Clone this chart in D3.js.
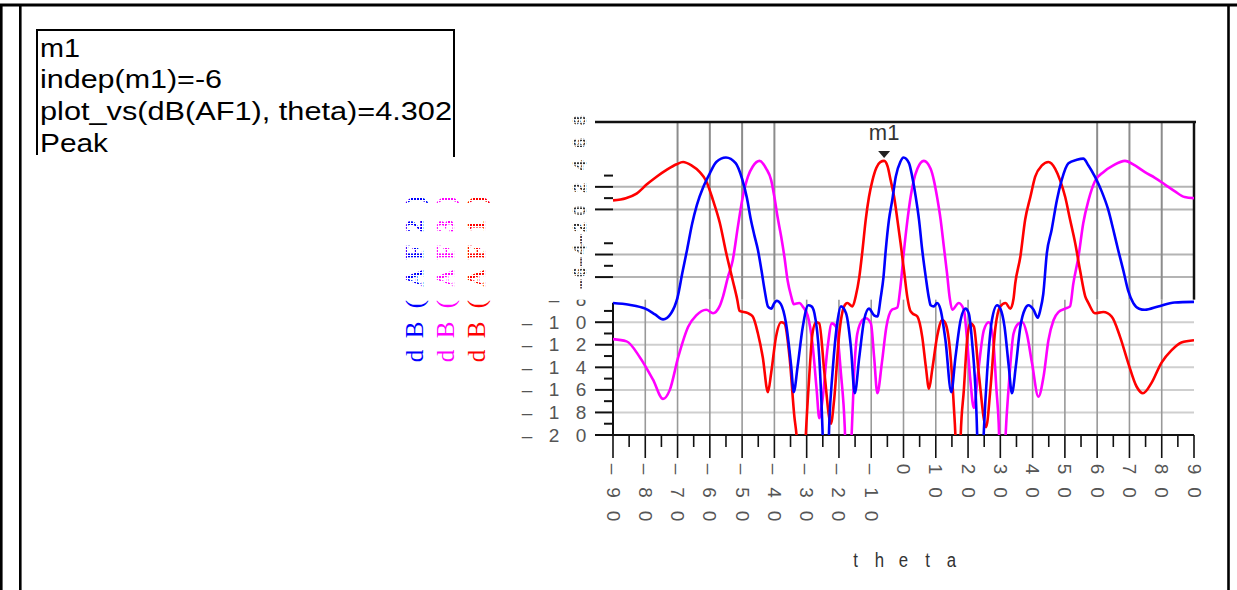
<!DOCTYPE html>
<html>
<head>
<meta charset="utf-8">
<script src="https://cdn.jsdelivr.net/npm/d3@7"></script>
<style>
  html, body { margin: 0; padding: 0; background: #fff; }
  svg { display: block; }
</style>
</head>
<body>
<svg id="chart" width="1237" height="590"></svg>
<script>
// ---- axis values ----
const thetaRange = [-90, 90];
const dbRange = [-20, 7.75];
const panelSplitDB = -8;
const thetaTicks = d3.range(-90, 91, 10);
const thetaMinorTicks = d3.range(-85, 90, 10);
const upperGridDB = [2, 0, -4, -6];
const upperMinorDB = [3, 1, -3, -5];
const upperLabelDB = [8, 6, 4, 2, 0, -2, -4, -6];
const upperVGridTheta = [-70, -60, -50, -40, 60, 70, 80];
const lowerGridDB = [-10, -12, -14, -16, -18];
const lowerTickDB = [-10, -12, -14, -16, -18, -20];
const lowerMinorDB = [-9, -11, -13, -15, -17, -19];
const lowerLabelDB = [-8, -10, -12, -14, -16, -18, -20];
const lowerVGridTheta = d3.range(-80, 81, 10);

// ---- traces: [theta (deg), dB] ----
const af1 = [ // dB(AF1)
  [-90, 0.8], [-86, 1.0], [-82.7, 1.4], [-79.6, 2.2], [-76.5, 2.9], [-73.4, 3.5], [-70.3, 4.0],
  [-68.3, 4.2], [-65.7, 3.9], [-63.1, 3.3], [-61.1, 2.5], [-59, 0.8], [-56.9, -1.2], [-54.9, -3.9],
  [-52.9, -6.3], [-51.5, -8.0], [-50.8, -9.0], [-48.2, -9.2], [-46.7, -9.5], [-45.1, -11.0],
  [-43.6, -13.1], [-42.0, -16.2], [-41.0, -14.5], [-39.5, -11.3], [-37.9, -10.0], [-36.9, -10.1],
  [-35.3, -13.1], [-33.8, -18.4], [-33.1, -20.2], [-31.7, -30], [-30.3, -20.2], [-29.2, -14.8],
  [-28.2, -11.0], [-27.1, -10.0], [-26.1, -10.1], [-24.5, -14.5], [-22.5, -19.0], [-21.5, -16.9],
  [-19.9, -11.0], [-18.4, -8.6], [-17.4, -8.3], [-15.8, -8.6], [-14.8, -7.7], [-13.7, -6.0],
  [-12.7, -3.6], [-11.7, -0.9], [-10.7, 1.1], [-9.6, 2.6], [-8.4, 3.7], [-7.2, 4.2], [-6, 4.302],
  [-4.9, 3.8], [-4.0, 2.6], [-2.9, 1.1], [-1.9, -0.9], [-0.9, -3.0], [0.15, -5.4], [1.2, -7.8],
  [2.0, -8.9], [2.7, -9.2], [4.3, -9.5], [5.8, -11.3], [6.9, -13.9], [7.9, -15.9], [8.9, -14.2],
  [10.4, -11.3], [12.0, -9.8], [13.0, -10.1], [14.6, -13.1], [15.6, -17.5], [16.1, -20.2],
  [16.9, -30], [17.7, -20.2], [18.7, -16.0], [19.7, -11.6], [20.7, -10.1], [21.8, -10.4],
  [23.3, -14.5], [25.6, -19.3], [26.9, -16.0], [28.5, -10.4], [30.0, -8.6], [31.6, -8.3],
  [33.1, -8.8], [34.1, -7.9], [34.6, -6.6], [36.2, -4.2], [37.7, -0.9], [39.3, 1.1], [40.8, 2.9],
  [42.9, 3.9], [44.9, 4.2], [47.0, 3.6], [48.5, 2.6], [50.1, 1.1], [51.6, -0.9], [53.2, -3.0],
  [54.7, -5.4], [56.3, -7.7], [57.3, -8.3], [59.3, -9.2], [61.9, -9.1], [64.5, -9.5], [67.1, -11.3],
  [69.6, -13.6], [72.2, -15.7], [74.2, -16.3], [76.8, -15.4], [79.9, -13.6], [83.0, -12.5],
  [86.1, -11.8], [90, -11.6]
];
const af2 = [ // dB(AF2)
  [-90, -8.3], [-85, -8.45], [-80, -8.8], [-77, -9.3], [-74.5, -9.75], [-72, -9.2], [-70, -7.8],
  [-68.5, -5.6], [-67, -3.5], [-65.5, -1.3], [-64, 0.4], [-62, 2.0], [-60, 3.2], [-58, 4.2],
  [-55, 4.6], [-52, 4.1], [-50, 2.7], [-48.5, 1.0], [-47.3, -0.9], [-46.2, -2.3], [-45.1, -3.6],
  [-44, -5.4], [-43, -7.2], [-42, -8.6], [-41, -8.8], [-40, -8.3], [-39.3, -8.1], [-38, -8.4],
  [-36.4, -10.1], [-34.8, -13.9], [-34, -16.2], [-32.8, -13.9], [-31.2, -10.4], [-29.5, -8.5],
  [-28.5, -8.6], [-27.6, -9.2], [-26.1, -13.1], [-25.1, -19.5], [-24, -30], [-23, -19.0],
  [-22, -14.5], [-20.4, -9.8], [-19.4, -8.6], [-17.8, -9.2], [-16.3, -12.2], [-15.1, -16.3],
  [-13.7, -13.1], [-12.2, -9.8], [-10.7, -8.8], [-9.1, -9.4], [-8.1, -9.5], [-7.0, -7.7],
  [-6.2, -6.0], [-5.5, -3.6], [-4.5, -0.9], [-3.5, 0.8], [-2.4, 2.9], [-1, 4.2], [0, 4.6],
  [1.7, 4.1], [2.7, 2.9], [3.8, 1.1], [4.8, -0.9], [5.8, -3.6], [6.9, -6.0], [7.9, -7.9],
  [8.4, -8.5], [9.4, -8.6], [10.4, -8.3], [11.5, -8.9], [13.0, -11.6], [14.8, -16.2], [16.1, -13.1],
  [17.7, -9.8], [19.2, -8.8], [20.2, -9.2], [21.2, -11.6], [22.8, -19.8], [23.6, -30], [24.9, -19.6],
  [25.9, -14.5], [27.4, -9.8], [29.0, -8.5], [30.0, -8.8], [31.3, -10.4], [32.6, -13.9],
  [33.6, -16.3], [34.8, -13.9], [36.2, -10.4], [37.7, -8.8], [38.7, -8.5], [40.3, -8.9],
  [41.6, -9.6], [42.4, -8.9], [43.3, -7.5], [44.4, -3.9], [45.9, -1.8], [47.5, 0.8], [49.0, 2.6],
  [51.1, 4.1], [53.7, 4.4], [55.7, 4.5], [57.3, 3.9], [59.3, 2.9], [61.4, 1.6], [63.4, 0.0],
  [65.0, -1.8], [66.5, -3.6], [68.1, -5.4], [69.6, -7.2], [71.2, -8.3], [73, -8.8], [74.8, -8.9],
  [78.9, -8.6], [84, -8.25], [90, -8.2]
];
const af3 = [ // dB(AF3)
  [-90, -11.5], [-85.8, -11.7], [-81.7, -13.1], [-77.6, -15.1], [-74.5, -16.8], [-72.4, -16.0],
  [-69.8, -13.1], [-66.7, -10.4], [-64.2, -9.4], [-61.1, -8.9], [-59.0, -9.2], [-57.0, -8.6],
  [-55.9, -7.7], [-54.4, -6.0], [-52.9, -4.5], [-51.3, -1.5], [-49.8, 1.1], [-48.2, 2.9],
  [-46.7, 3.8], [-44.6, 4.3], [-42.5, 3.6], [-41.0, 2.6], [-40.0, 1.1], [-39.0, -0.7], [-37.9, -2.4],
  [-36.9, -4.2], [-35.9, -6.3], [-34.8, -7.7], [-34.0, -8.4], [-32.3, -8.3], [-31.0, -8.7],
  [-29.7, -9.4], [-28.2, -11.9], [-26.9, -16.0], [-26.1, -18.5], [-25.1, -16.9], [-23.5, -12.2],
  [-22.2, -10.1], [-20.9, -10.4], [-19.4, -14.5], [-18.2, -19.3], [-17.1, -30], [-16.1, -20.2],
  [-15.3, -14.5], [-14.3, -11.0], [-12.7, -9.8], [-11.7, -9.65], [-10.1, -10.1], [-9.1, -13.1],
  [-8.1, -16.3], [-6.7, -13.6], [-5.3, -10.4], [-3.6, -8.9], [-1.9, -8.7], [-1.0, -7.0],
  [0.1, -3.8], [1.2, -1.0], [2.2, 1.1], [3.2, 2.6], [4.3, 3.6], [6.3, 4.3], [8.4, 3.6], [9.4, 2.6],
  [10.4, 1.1], [11.5, -0.9], [12.5, -3.3], [13.5, -5.7], [14.3, -7.8], [15.1, -8.9], [17.1, -8.3],
  [18.7, -8.9], [19.7, -11.6], [20.7, -15.1], [21.8, -17.6], [23.1, -14.5], [24.9, -10.7],
  [26.4, -10.0], [27.7, -11.3], [28.8, -16.0], [29.5, -19.0], [30.5, -30], [31.6, -20.2],
  [32.6, -15.7], [34.1, -11.0], [35.7, -10.1], [36.9, -10.0], [38.2, -11.0], [39.8, -13.6],
  [41.8, -16.6], [43.4, -14.8], [44.9, -11.6], [46.5, -9.8], [48.0, -9.1], [50.1, -8.8],
  [51.6, -8.6], [52.6, -6.6], [54.2, -4.2], [55.7, -1.2], [57.3, 0.8], [59.3, 2.5], [61.9, 3.3],
  [65.0, 3.9], [68.6, 4.3], [71.7, 3.9], [74.8, 3.3], [77.9, 2.8], [81.0, 2.2], [84.1, 1.6],
  [87.1, 1.1], [90, 1.0]
];
const legendLabels = ["dB(AF2)", "dB(AF3)", "dB(AF1)"];
const markerName = "m1";
const markerTheta = -6;
const markerValue = 4.302;
const markerLines = ["m1", "indep(m1)=-6", "plot_vs(dB(AF1), theta)=4.302", "Peak"];
const xTitle = "theta";

// ---- layout ----
const svg = d3.select("#chart");
const x = d3.scaleLinear().domain(thetaRange).range([613, 1194]);
const y = d3.scaleLinear().domain(dbRange).range([435, 122]);
const yTop = y(dbRange[1]), ySplit = y(panelSplitDB), yBot = y(dbRange[0]);
const xL = x(thetaRange[0]), xR = x(thetaRange[1]);
const numFont = "'Liberation Sans', Arial, sans-serif";
const labelGray = "#555";

const defs = svg.append("defs");
function dotPattern(id, color) {
  const p = defs.append("pattern").attr("id", id)
    .attr("width", 3).attr("height", 3).attr("patternUnits", "userSpaceOnUse");
  p.append("rect").attr("width", 2).attr("height", 2).attr("fill", color);
}
dotPattern("dots-gray", "#333");
dotPattern("dots-blue", "#0000ff");
dotPattern("dots-magenta", "#ff00ff");
dotPattern("dots-red", "#ff0000");
defs.append("clipPath").attr("id", "plot-clip").append("rect")
  .attr("x", xL).attr("y", yTop).attr("width", xR - xL).attr("height", yBot - yTop);
defs.append("clipPath").attr("id", "lower-label-clip").append("rect")
  .attr("x", 480).attr("y", ySplit).attr("width", 140).attr("height", 160);

// ---- page frame ----
const frame = svg.append("g").attr("stroke", "#000").attr("fill", "none");
frame.append("line").attr("x1", 0).attr("x2", 1237).attr("y1", 5).attr("y2", 5).attr("stroke-width", 3);
frame.append("line").attr("x1", 1.3).attr("x2", 1.3).attr("y1", 4).attr("y2", 590).attr("stroke-width", 2.6);
frame.append("line").attr("x1", 20.3).attr("x2", 20.3).attr("y1", 4).attr("y2", 590).attr("stroke-width", 2.6);
frame.append("line").attr("x1", 1228.5).attr("x2", 1228.5).attr("y1", 4).attr("y2", 590).attr("stroke-width", 2.6);

// ---- marker readout box ----
const box = svg.append("g");
box.append("path").attr("d", "M37,155 V30 H454 V157")
  .attr("fill", "none").attr("stroke", "#000").attr("stroke-width", 2);
const boxWidths = [40, 182, 412, 68];
box.selectAll("text").data(markerLines).join("text")
  .attr("x", 40).attr("y", (d, i) => 56.7 + i * 31.7)
  .attr("font-family", numFont).attr("font-size", 25).attr("fill", "#000")
  .attr("textLength", (d, i) => boxWidths[i]).attr("lengthAdjust", "spacingAndGlyphs")
  .text(d => d);

// ---- grid ----
const grid = svg.append("g");
grid.selectAll(".hl").data(lowerGridDB).join("line")
  .attr("x1", xL).attr("x2", xR).attr("y1", d => y(d)).attr("y2", d => y(d))
  .attr("stroke", "#cfcfcf").attr("stroke-width", 2);
grid.selectAll(".vl").data(lowerVGridTheta).join("line")
  .attr("x1", d => x(d)).attr("x2", d => x(d)).attr("y1", ySplit).attr("y2", yBot)
  .attr("stroke", "#999").attr("stroke-width", 1.6);
grid.selectAll(".hu").data(upperGridDB).join("line")
  .attr("x1", xL).attr("x2", xR).attr("y1", d => y(d)).attr("y2", d => y(d))
  .attr("stroke", "#b4b4b4").attr("stroke-width", 2);
grid.selectAll(".vu").data(upperVGridTheta).join("line")
  .attr("x1", d => x(d)).attr("x2", d => x(d)).attr("y1", yTop).attr("y2", ySplit)
  .attr("stroke", "#8c8c8c").attr("stroke-width", 2);

// ---- frame of the plot ----
const axes = svg.append("g").attr("stroke", "#111");
axes.append("line").attr("x1", 595).attr("x2", xR + 2).attr("y1", yTop).attr("y2", yTop).attr("stroke-width", 2.5);
axes.append("line").attr("x1", xR).attr("x2", xR).attr("y1", yTop).attr("y2", ySplit).attr("stroke-width", 2.5);
axes.append("line").attr("x1", xL).attr("x2", xL).attr("y1", ySplit + 3).attr("y2", yBot).attr("stroke-width", 2);
axes.append("line").attr("x1", xL).attr("x2", xR).attr("y1", yBot).attr("y2", yBot).attr("stroke-width", 2);

// y ticks
axes.selectAll(".tu").data(upperGridDB).join("line")
  .attr("x1", xL - 18).attr("x2", xL).attr("y1", d => y(d)).attr("y2", d => y(d)).attr("stroke-width", 2);
axes.selectAll(".tum").data(upperMinorDB).join("line")
  .attr("x1", xL - 9).attr("x2", xL).attr("y1", d => y(d)).attr("y2", d => y(d)).attr("stroke-width", 2);
axes.selectAll(".tl").data(lowerTickDB).join("line")
  .attr("x1", xL - 18).attr("x2", xL).attr("y1", d => y(d)).attr("y2", d => y(d)).attr("stroke-width", 2);
axes.selectAll(".tlm").data(lowerMinorDB).join("line")
  .attr("x1", xL - 9).attr("x2", xL).attr("y1", d => y(d)).attr("y2", d => y(d)).attr("stroke-width", 2);
// x ticks
axes.selectAll(".tx").data(thetaTicks).join("line")
  .attr("x1", d => x(d)).attr("x2", d => x(d)).attr("y1", yBot).attr("y2", yBot + 23).attr("stroke-width", 1.6);
axes.selectAll(".txm").data(thetaMinorTicks).join("line")
  .attr("x1", d => x(d)).attr("x2", d => x(d)).attr("y1", yBot).attr("y2", yBot + 12).attr("stroke-width", 1.6);

// ---- tick labels ----
const dash = "\u2013";
function signed(v) { return (v < 0 ? dash : "") + Math.abs(v); }

// lower panel: characters laid out on a fixed pitch
const lowerLabels = svg.append("g").attr("clip-path", "url(#lower-label-clip)")
  .attr("font-family", numFont).attr("font-size", 19).attr("fill", labelGray);
lowerLabelDB.forEach(v => {
  const chars = Array.from(signed(v));
  chars.forEach((c, i) => {
    lowerLabels.append("text")
      .attr("x", 581 - (chars.length - 1 - i) * 27).attr("y", y(v))
      .attr("text-anchor", "middle").attr("dominant-baseline", "central")
      .text(c);
  });
});

// upper panel: rotated, broken-up labels
const upperLabels = svg.append("g")
  .attr("font-family", numFont).attr("font-size", 18).attr("font-weight", "bold")
  .attr("fill", "url(#dots-gray)");
upperLabelDB.forEach(v => {
  upperLabels.append("text")
    .attr("transform", `translate(586,${y(v)}) rotate(-90)`)
    .attr("text-anchor", "middle").attr("letter-spacing", 2)
    .text(signed(v));
});

// x labels: characters stacked downward, each turned 90 degrees
const xLabels = svg.append("g")
  .attr("font-family", numFont).attr("font-size", 19).attr("fill", labelGray);
thetaTicks.forEach(v => {
  Array.from(signed(v)).forEach((c, i) => {
    xLabels.append("text")
      .attr("transform", `translate(${x(v)},${469 + i * 23.5}) rotate(90)`)
      .attr("text-anchor", "middle").attr("dominant-baseline", "central")
      .text(c);
  });
});

// x title
Array.from(xTitle).forEach((c, i, arr) => {
  svg.append("text")
    .attr("transform", `translate(${x(0) + (i - (arr.length - 1) / 2) * 24},567) scale(0.8,1)`)
    .attr("text-anchor", "middle")
    .attr("font-family", numFont).attr("font-size", 21).attr("fill", "#333")
    .text(c);
});

// ---- legend (rotated, reading upward) ----
const legendColors = ["#0000ff", "#ff00ff", "#ff0000"];
const legendDots = ["url(#dots-blue)", "url(#dots-magenta)", "url(#dots-red)"];
legendLabels.forEach((lab, k) => {
  const bx = 423 + k * 31;
  Array.from(lab).forEach((c, i) => {
    svg.append("text")
      .attr("transform", `translate(${bx},${356 - i * 26}) rotate(-90)`)
      .attr("text-anchor", "middle")
      .attr("font-family", "'Liberation Serif', 'Times New Roman', serif")
      .attr("font-size", 25)
      .attr("font-weight", i < 3 ? "normal" : "bold")
      .attr("fill", i < 3 ? legendColors[k] : legendDots[k])
      .text(c);
  });
});

// ---- traces ----
const line = d3.line().x(d => x(d[0])).y(d => y(d[1])).curve(d3.curveMonotoneX);
const traces = svg.append("g").attr("clip-path", "url(#plot-clip)").attr("fill", "none")
  .attr("stroke-width", 2.6).attr("stroke-linejoin", "round");
traces.append("path").datum(af3).attr("d", line).attr("stroke", "#ff00ff");
traces.append("path").datum(af1).attr("d", line).attr("stroke", "#ff0000");
traces.append("path").datum(af2).attr("d", line).attr("stroke", "#0000ff");

// ---- marker ----
const mx = x(markerTheta), my = y(markerValue);
svg.append("path")
  .attr("d", `M${mx - 6},${my - 10} L${mx + 6},${my - 10} L${mx},${my - 3} Z`)
  .attr("fill", "#222");
svg.append("text").attr("x", mx).attr("y", my - 21).attr("text-anchor", "middle")
  .attr("font-family", numFont).attr("font-size", 22).attr("fill", "#333")
  .text(markerName);
</script>
</body>
</html>
